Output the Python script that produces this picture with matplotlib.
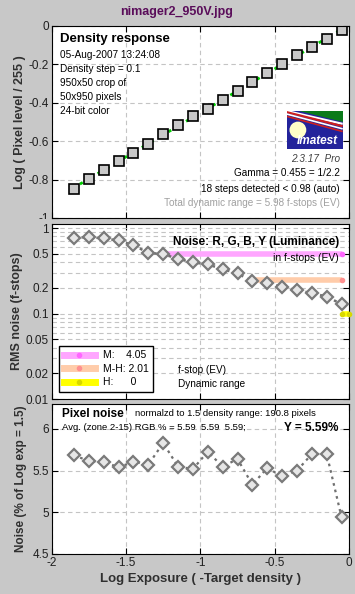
import numpy as np
import matplotlib.pyplot as plt
from matplotlib.lines import Line2D
from matplotlib.patches import Ellipse, Polygon
from matplotlib.ticker import FixedLocator, NullFormatter
from matplotlib.transforms import Bbox

plt.rcParams['font.family'] = ['Liberation Sans', 'DejaVu Sans']

# log exposure of each detected zone
log_exp = [-1.85, -1.75, -1.65, -1.55, -1.45, -1.35, -1.25, -1.15, -1.05, -0.95,
           -0.85, -0.75, -0.65, -0.55, -0.45, -0.35, -0.25, -0.15, -0.05]
# density response: log(pixel level / 255)
log_pixel = [-0.847, -0.797, -0.750, -0.703, -0.659, -0.612, -0.565, -0.518, -0.471, -0.430,
             -0.383, -0.339, -0.294, -0.247, -0.198, -0.153, -0.111, -0.066, -0.019]
# rms noise in f-stops
rms_noise = [0.773, 0.787, 0.759, 0.718, 0.631, 0.515, 0.497, 0.437, 0.398, 0.377,
             0.331, 0.296, 0.238, 0.229, 0.205, 0.187, 0.174, 0.158, 0.129]
# pixel noise, % of log exposure range 1.5
pix_noise = [5.688, 5.612, 5.608, 5.54, 5.608, 5.572, 5.832, 5.548, 5.52, 5.728,
             5.548, 5.64, 5.332, 5.532, 5.432, 5.50, 5.70, 5.70, 4.94]

# dynamic range bars: level, start, end
dr_names = ['M:    4.05', 'M-H: 2.01', 'H:      0']
dr_level = [0.5, 0.25, 0.1]
dr_start = [-1.27, -0.65, -0.05]
dr_end = [-0.05, -0.05, 0.0]
dr_line_col = ['#ffa6ff', '#ffccaa', '#ffff00']
dr_dot_col = ['#ff66ff', '#ff9090', '#d8d800']

W, H = 355, 594
BG = '#c8c8c8'


def fx(px):
    return px / W


def fy(py):
    return 1 - py / H


fig = plt.figure(figsize=(W / 100, H / 100), dpi=100, facecolor=BG)

left, right = 51.7, 349
ax1 = fig.add_axes([fx(left), fy(218), fx(right - left), (218 - 26) / H])
ax2 = fig.add_axes([fx(left), fy(399), fx(right - left), (399 - 224) / H])
ax3 = fig.add_axes([fx(left), fy(554), fx(right - left), (554 - 404) / H])

grid_kw = dict(color='#c4c4c4', linestyle=(0, (4, 3)), linewidth=0.8)

for ax in (ax1, ax2, ax3):
    ax.set_xlim(-2, 0)
    ax.set_xticks([-2, -1.5, -1, -0.5, 0])
    ax.tick_params(direction='in', top=True, right=True, length=4, width=0.8,
                   labelsize=8.5, labelcolor='#202020', pad=2)
    ax.tick_params(which='minor', length=0)
    ax.grid(True, **grid_kw)
    ax.set_axisbelow(True)
    for s in ax.spines.values():
        s.set_linewidth(0.8)

ax1.set_xticklabels([])
ax2.set_xticklabels([])
ax3.set_xticklabels(['-2', '-1.5', '-1', '-0.5', '0'])

# --- density response
x = np.array(log_exp)
y = np.array(log_pixel)
fit = np.polyfit(x, y, 1)
xf = np.array([x[0] - 0.02, x[-1] + 0.02])
ax1.plot(xf, np.polyval(fit, xf), linestyle=(0, (1.2, 2.5)), color='#00cc00', lw=2)
ax1.plot(x, y, linestyle='none', marker='s', ms=6.5, mfc='#c8c8c8', mec='black', mew=1.2)
ax1.set_ylim(-1, 0)
ax1.set_yticks([-1, -0.8, -0.6, -0.4, -0.2, 0])
ax1.set_yticklabels(['-1', '-0.8', '-0.6', '-0.4', '-0.2', '0'])
ax1.set_ylabel('Log ( Pixel level / 255 )', fontsize=9, fontweight='bold',
               color='#303030', labelpad=2)
# the "-1" label is cut by the panel below
clip = Bbox.from_extents(0, H - 219, W, H)
ax1.get_yticklabels()[0].set_clip_box(clip)
ax1.get_yticklabels()[0].set_clip_on(True)

# --- rms noise
ax2.set_yscale('log')
ax2.set_ylim(0.01, 1.12)
ax2.yaxis.set_major_locator(FixedLocator([0.01, 0.02, 0.05, 0.1, 0.2, 0.5, 1]))
ax2.set_yticklabels(['0.01', '0.02', '0.05', '0.1', '0.2', '0.5', '1'])
minors = [m * d for d in (0.01, 0.1) for m in (2, 3, 4, 5, 6, 7, 8, 9)]
ax2.yaxis.set_minor_locator(FixedLocator(minors))
ax2.yaxis.set_minor_formatter(NullFormatter())
ax2.grid(True, which='minor', axis='y', **grid_kw)
for lv, xs, xe, lc, dc in zip(dr_level, dr_start, dr_end, dr_line_col, dr_dot_col):
    ax2.plot([xs, xe], [lv, lv], color=lc, lw=4, solid_capstyle='butt', zorder=3,
             clip_on=False)
    ax2.plot([xs, xe], [lv, lv], linestyle='none', marker='o', ms=3, color=dc, zorder=3,
             clip_on=False)
ax2.plot(log_exp, rms_noise, linestyle=(0, (1.2, 1.8)), color='#707070', lw=1.8,
         marker='D', ms=6, mfc='#e6e6e6', mec='#7a7a7a', mew=1.6, zorder=4)
ax2.set_ylabel('RMS noise (f-stops)', fontsize=9, fontweight='bold', color='#303030',
               labelpad=2)
handles = [Line2D([0], [0], color=lc, lw=5, marker='o', ms=3, mfc=dc, mec=dc)
           for lc, dc in zip(dr_line_col, dr_dot_col)]
leg = ax2.legend(handles, dr_names, loc='lower left', bbox_to_anchor=(0.026, 0.042),
                 borderaxespad=0, fontsize=7.5, fancybox=False, framealpha=1,
                 edgecolor='black', handlelength=3, handletextpad=0.8,
                 labelspacing=0.35, borderpad=0.4)
leg.get_frame().set_linewidth(1)

# --- pixel noise
ax3.plot(log_exp, pix_noise, linestyle=(0, (1.2, 1.8)), color='#707070', lw=1.6,
         marker='D', ms=6, mfc='#e6e6e6', mec='#7a7a7a', mew=1.6, zorder=4)
ax3.set_ylim(4.5, 6.3)
ax3.set_yticks([4.5, 5, 5.5, 6])
ax3.set_yticklabels(['4.5', '5', '5.5', '6'])
ax3.set_ylabel('Noise (% of Log exp = 1.5)', fontsize=8.5, fontweight='bold',
               color='#303030', labelpad=4)
ax3.set_xlabel('Log Exposure ( -Target density )', fontsize=9.5, fontweight='bold',
               color='#303030', labelpad=3)

# --- texts
fig.text(fx(177), fy(12), 'nimager2_950V.jpg', ha='center', va='center',
         fontsize=9, fontweight='bold', color='#5a0d5a')

fig.text(fx(60), fy(39), 'Density response', ha='left', va='center',
         fontsize=9.5, fontweight='bold')
info = ['05-Aug-2007 13:24:08', 'Density step = 0.1', '950x50 crop of',
        '50x950 pixels', '24-bit color']
for i, t in enumerate(info):
    fig.text(fx(60), fy(54.5 + i * 14.1), t, ha='left', va='center', fontsize=7.2)

fig.text(fx(340), fy(158.5), '2.3.17  Pro', ha='right', va='center', fontsize=7.2,
         style='italic', color='#404040')
fig.text(fx(340), fy(173.5), 'Gamma = 0.455 = 1/2.2', ha='right', va='center',
         fontsize=7.2)
fig.text(fx(340), fy(188.5), '18 steps detected < 0.98 (auto)', ha='right',
         va='center', fontsize=7.2)
fig.text(fx(340), fy(203.5), 'Total dynamic range = 5.98 f-stops (EV)', ha='right',
         va='center', fontsize=7.2, color='#a0a0a0')

fig.text(fx(339), fy(242), 'Noise: R, G, B, Y (Luminance)', ha='right', va='center',
         fontsize=8.5, fontweight='bold')
fig.text(fx(339), fy(258), 'in f-stops (EV)', ha='right', va='center', fontsize=7.5)
fig.text(fx(178), fy(370), 'f-stop (EV)', ha='left', va='center', fontsize=7.2)
fig.text(fx(178), fy(384), 'Dynamic range', ha='left', va='center', fontsize=7.2)

fig.text(fx(62), fy(414), 'Pixel noise', ha='left', va='center', fontsize=8.5,
         fontweight='bold')
fig.text(fx(135), fy(414), 'normalzd to 1.5 density range: 190.8 pixels', ha='left',
         va='center', fontsize=6.8)
fig.text(fx(62), fy(428), 'Avg. (zone 2-15) RGB % = 5.59  5.59  5.59;', ha='left',
         va='center', fontsize=6.8)
fig.text(fx(338), fy(428), 'Y = 5.59%', ha='right', va='center', fontsize=8.5,
         fontweight='bold')

# --- Imatest logo
lg = fig.add_axes([fx(286.7), fy(149), fx(56), 38 / H])
lg.set_xlim(0, 1)
lg.set_ylim(0, 1)
lg.axis('off')
lg.add_patch(Polygon([(0, 0), (1, 0), (1, 1), (0, 1)], closed=True, fc='#23239b', ec='none'))
lg.add_patch(Polygon([(0.22, 1), (1, 1), (1, 0.7)], closed=True, fc='#0a7a1a', ec='none'))
for (y0, y1, c, w) in [(1.0, 0.66, 'white', 1.6), (0.97, 0.6, '#cc2020', 1.6),
                       (0.92, 0.53, 'white', 1.2), (0.86, 0.46, '#cc2020', 1.2)]:
    lg.plot([0.0, 1.0], [y0, y1], color=c, lw=w, solid_capstyle='butt')
lg.add_patch(Ellipse((0.2, 0.5), 0.3, 0.44, fc='#ffffc8', ec='none', zorder=3))
lg.text(0.55, 0.2, 'Imatest', color='white', fontsize=8.5, fontweight='bold',
        style='italic', ha='center', va='center', zorder=4)

fig.savefig('out.png', dpi=100, facecolor=BG)
